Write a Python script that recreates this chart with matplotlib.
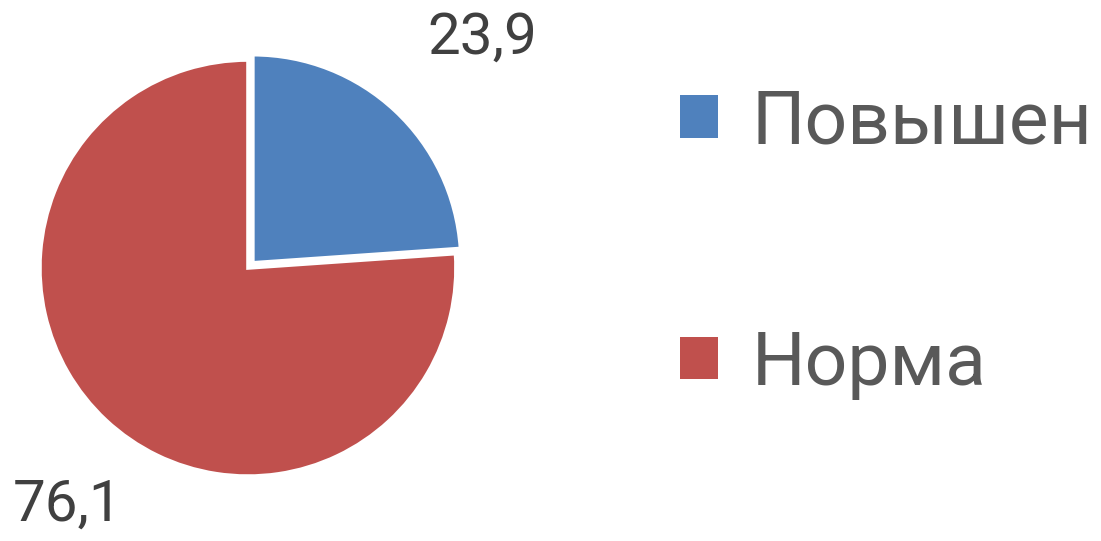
"""Pie chart: share of elevated vs normal readings."""

import matplotlib

matplotlib.use("Agg")

import matplotlib.pyplot as plt  # noqa: E402

plt.rcParams["font.family"] = ["Roboto", "DejaVu Sans"]

categories = ["Повышен", "Норма"]
shares = [23.9, 76.1]
value_labels = ["23,9", "76,1"]

colors = ["#4F81BD", "#C0504D"]
explode = [0.035, 0.0]
# label centres in pie-radius units (Excel "best fit" placement)
label_pos = [(1.125, 1.106), (-0.865, -1.139)]

fig = plt.figure(figsize=(11.01, 5.41), dpi=100)
ax = fig.add_axes([0.0363, 0.120, 0.3778, 0.769])
wedges, _ = ax.pie(
    shares,
    colors=colors,
    startangle=90,
    counterclock=False,
    explode=explode,
    radius=1.0,
    wedgeprops={"edgecolor": "white", "linewidth": 2.5},
)
ax.set_xlim(-1, 1)
ax.set_ylim(-1, 1)
ax.set_aspect("equal")
ax.axis("off")

for text, (x, y) in zip(value_labels, label_pos):
    ax.text(x, y, text, ha="center", va="center", fontsize=42,
            color="#404040", clip_on=False)

leg = fig.legend(
    wedges,
    categories,
    loc="center left",
    bbox_to_anchor=(0.618, 0.550),
    frameon=False,
    fontsize=54,
    handlelength=0.5,
    handleheight=0.5,
    handletextpad=0.45,
    labelspacing=2.27,
    labelcolor="#595959",
    borderpad=0,
    borderaxespad=0,
)
for h in leg.legend_handles:
    h.set_edgecolor("none")

fig.savefig("out.png", dpi=100)
